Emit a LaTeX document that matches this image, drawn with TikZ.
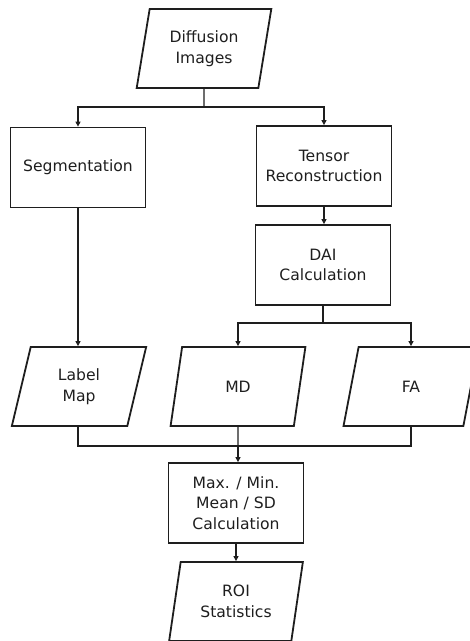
\documentclass[tikz,border=0pt]{standalone}
\usepackage{fontspec}
\setmainfont{DejaVu Sans}
\usepackage{tikz}
\usetikzlibrary{arrows.meta, positioning, shapes.geometric}
\definecolor{ink}{HTML}{1E1E1E}

\begin{document}
\begin{tikzpicture}[x=1pt, y=-1pt,
      every node/.style={font=\fontsize{15.6}{20.5}\selectfont, text=ink},
      box/.style={draw=ink, line width=1.8pt, minimum width=135pt, minimum height=80pt, align=center, inner sep=2pt},
      data/.style={draw=ink, line width=1.8pt, shape=trapezium, trapezium left angle=77, trapezium right angle=103,
                   trapezium stretches=true, minimum width=135pt, minimum height=79pt, align=center, inner sep=0pt},
      arr/.style={-{Triangle[length=5pt, width=5pt]}, ink, line width=1.1pt},
      ln/.style={ink, line width=1.1pt}]
    \useasboundingbox (0,0) rectangle (470,641);
    \node[data] (diff) at (204,48.5) {Diffusion\\Images};
    \node[box] (seg) at (78,167.5) {Segmentation};
    \node[box] (tens) at (324,166) {Tensor\\Reconstruction};
    \node[box] (dai) at (323,265) {DAI\\Calculation};
    \node[data] (lmap) at (79,386.5) {Label\\Map};
    \node[data] (md) at (238,386.5) {MD};
    \node[data] (fa) at (411,386.5) {FA};
    \node[box] (stat) at (236,503) {Max. / Min.\\Mean / SD\\Calculation};
    \node[data] (roi) at (236,601.5) {ROI\\Statistics};
    \coordinate (split1) at (204,107);
    \coordinate (split2) at (323,323);
    \coordinate (merge) at (238,446);
    \draw[ln] (diff.south) -- (split1);
    \draw[arr] (split1) -| (seg.north);
    \draw[arr] (split1) -| (tens.north);
    \draw[arr] (seg.south) -- (seg.south |- lmap.north);
    \draw[arr] (tens.south) -- (tens.south |- dai.north);
    \draw[ln] (dai.south) -- (split2);
    \draw[arr] (split2) -| (md.north);
    \draw[arr] (split2) -| (fa.north);
    \draw[ln] (seg.south |- lmap.south) -- (seg.south |- merge) -- (fa.south |- merge) -- (fa.south);
    \draw[ln] (md.south) -- (merge);
    \draw[arr] (merge) -- (merge |- stat.north);
    \draw[arr] (stat.south) -- (stat.south |- roi.north);
  \end{tikzpicture}
\end{document}
